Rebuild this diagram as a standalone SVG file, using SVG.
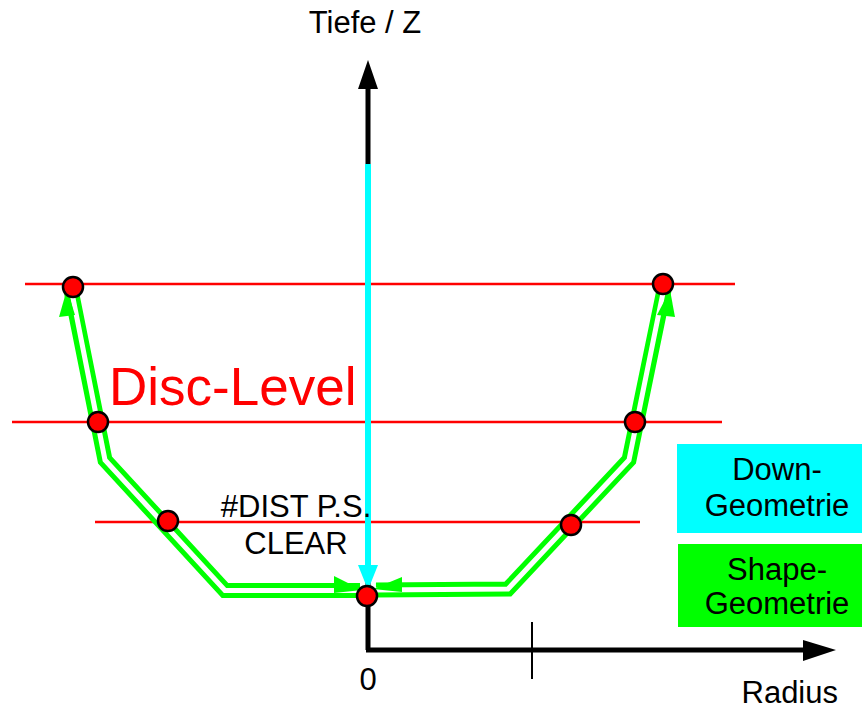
<svg xmlns="http://www.w3.org/2000/svg" width="862" height="710" viewBox="0 0 862 710">
<style>
text{font-family:"Liberation Sans",Arial,sans-serif;fill:#000}
.lbl{font-size:31px}
.red{stroke:#ff0000;stroke-width:2.5;fill:none}
.dot{fill:#ff0000;stroke:#000;stroke-width:2.5}
.gout{stroke:#00ff00;stroke-width:15;fill:none;stroke-linejoin:miter;stroke-miterlimit:10}
.gin{stroke:#ffffff;stroke-width:5;fill:none;stroke-linejoin:miter;stroke-miterlimit:10}
.garr{fill:#00ff00}
.ax{stroke:#000;stroke-width:5;fill:none}
</style>
<rect width="862" height="710" fill="#fff"/>
<g id="levels">
<line class="red" x1="25" y1="284" x2="735" y2="284"/>
<line class="red" x1="12" y1="422" x2="722" y2="422"/>
<line class="red" x1="95" y1="522" x2="640" y2="522"/>
</g>
<g id="axes">
<line class="ax" x1="368" y1="650" x2="368" y2="86"/>
<polygon points="358,89 378,89 368,60" fill="#000"/>
<line class="ax" x1="366" y1="650" x2="806" y2="650"/>
<polygon points="803,640 803,661 836,650" fill="#000"/>
<line x1="532" y1="622" x2="532" y2="679" stroke="#000" stroke-width="2"/>
</g>
<g id="connectors">
<g id="down-geometry">
<line x1="368" y1="164" x2="368" y2="568" stroke="#00ffff" stroke-width="6"/>
<polygon points="358,565 378,565 368,590" fill="#00ffff"/>
</g>
<g id="shape-left">
<path class="gout" d="M360,590.5 L225,590.5 L105,460 L71,290"/>
<path class="gin" d="M362,590.5 L225,590.5 L105,460 L71,288"/>
<polygon class="garr" points="59,317 75,315 67,289"/>
<polygon class="garr" points="334,576 362,590 334,593"/>
</g>
<g id="shape-right">
<path class="gout" d="M376,590 L508,589 L629,460 L664,290"/>
<path class="gin" d="M374,590 L508,589 L629,460 L664,288"/>
<polygon class="garr" points="657,315 675,317 670,290"/>
<polygon class="garr" points="402,577 373,589 402,592"/>
</g>
</g>
<g id="points">
<circle class="dot" cx="73" cy="287" r="10"/>
<circle class="dot" cx="98" cy="422" r="10"/>
<circle class="dot" cx="168" cy="521" r="10"/>
<circle class="dot" cx="367" cy="596" r="10"/>
<circle class="dot" cx="571" cy="525" r="10"/>
<circle class="dot" cx="635" cy="422" r="10"/>
<circle class="dot" cx="663" cy="284" r="10"/>
</g>
<g id="labels">
<text class="lbl" x="365" y="33" text-anchor="middle">Tiefe / Z</text>
<text class="lbl" x="368" y="690" text-anchor="middle">0</text>
<text class="lbl" x="838" y="703" text-anchor="end">Radius</text>
<text x="109" y="405" style="font-size:53px;fill:#ff0000">Disc-Level</text>
<text class="lbl" x="296" y="517" text-anchor="middle">#DIST P.S.</text>
<text class="lbl" x="296" y="554" text-anchor="middle">CLEAR</text>
</g>
<g id="legend-down">
<rect x="677" y="444" width="185" height="89" fill="#00ffff"/>
<text class="lbl" x="777" y="480" text-anchor="middle">Down-</text>
<text class="lbl" x="777" y="516" text-anchor="middle">Geometrie</text>
</g>
<g id="legend-shape">
<rect x="678" y="544" width="184" height="83" fill="#00ff00"/>
<text class="lbl" x="777" y="580" text-anchor="middle">Shape-</text>
<text class="lbl" x="777" y="614" text-anchor="middle">Geometrie</text>
</g>
</svg>
